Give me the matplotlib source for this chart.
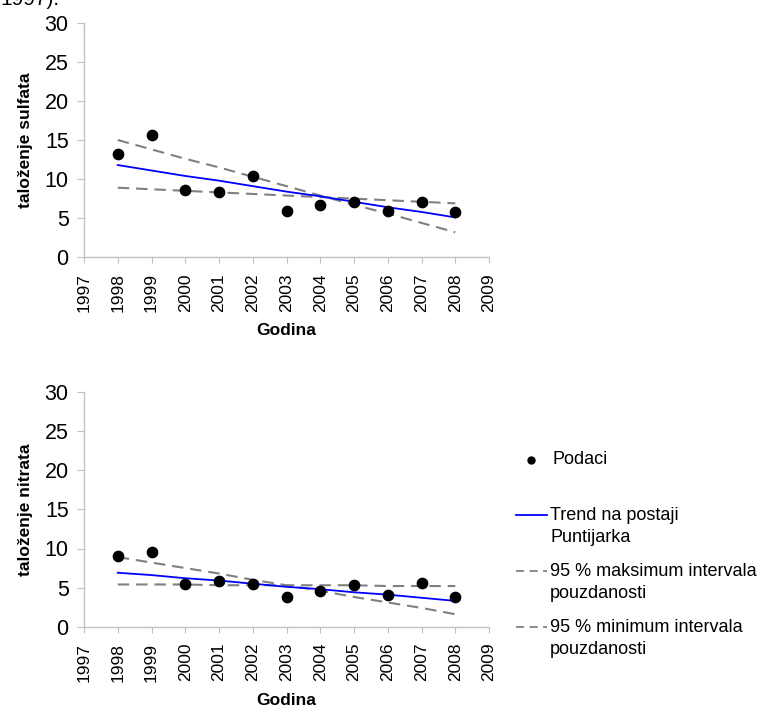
import matplotlib
matplotlib.use("Agg")
import matplotlib.pyplot as plt
from matplotlib.lines import Line2D

plt.rcParams['font.family'] = ['Liberation Sans', 'DejaVu Sans']

# === Podaci ===
godine = [1998, 1999, 2000, 2001, 2002, 2003, 2004, 2005, 2006, 2007, 2008]

sulfat = [13.2, 15.6, 8.6, 8.4, 10.4, 5.9, 6.7, 7.1, 5.9, 7.1, 5.8]
sulfat_trend = [11.8, 11.1, 10.4, 9.8, 9.1, 8.4, 7.8, 7.1, 6.4, 5.8, 5.1]
sulfat_max = [15.0, 13.8, 12.6, 11.5, 10.3, 9.1, 7.9, 6.7, 5.6, 4.4, 3.2]
sulfat_min = [8.9, 8.7, 8.5, 8.3, 8.1, 7.9, 7.7, 7.5, 7.3, 7.1, 6.9]

nitrat = [9.1, 9.6, 5.4, 5.9, 5.4, 3.8, 4.6, 5.3, 4.1, 5.6, 3.8]
nitrat_trend = [6.9, 6.6, 6.2, 5.9, 5.5, 5.1, 4.8, 4.4, 4.1, 3.7, 3.3]
nitrat_max = [8.9, 8.2, 7.5, 6.8, 6.0, 5.3, 4.6, 3.8, 3.1, 2.4, 1.6]
nitrat_min = [5.4, 5.4, 5.4, 5.3, 5.3, 5.3, 5.3, 5.3, 5.2, 5.2, 5.2]

x_ticks = list(range(1997, 2010))
y_ticks = [0, 5, 10, 15, 20, 25, 30]

SIVA = '#808080'
OS = '#c0c0c0'

fig = plt.figure(figsize=(7.6, 7.08), dpi=100)

# odrezani naslov na vrhu
fig.text(0.0, 1 - 5 / 708, "1997).", fontsize=15, va='baseline', ha='left')


def nacrtaj(ax, podaci, trend, gornji, donji, ylabel):
    ax.plot(godine, gornji, color=SIVA, lw=1.5, dashes=(5.5, 3.3))
    ax.plot(godine, donji, color=SIVA, lw=1.5, dashes=(5.5, 3.3))
    ax.plot(godine, trend, color='#0000ff', lw=1.3)
    ax.scatter(godine, podaci, s=55, color='black', zorder=5)

    ax.set_xlim(1997, 2009)
    ax.set_ylim(0, 30)
    ax.set_xticks(x_ticks)
    ax.set_xticklabels([str(g) for g in x_ticks], rotation=90, fontsize=12.5)
    ax.set_yticks(y_ticks)
    ax.set_yticklabels([str(v) for v in y_ticks], fontsize=15.5)

    for s in ['top', 'right']:
        ax.spines[s].set_visible(False)
    for s in ['left', 'bottom']:
        ax.spines[s].set_color(OS)
        ax.spines[s].set_linewidth(1)
    ax.tick_params(axis='y', direction='out', length=5, color=OS, pad=6)
    ax.tick_params(axis='x', direction='out', length=4.5, color=OS, pad=7)

    ax.set_xlabel("Godina", fontsize=12.5, fontweight='bold', labelpad=8)
    ax.set_ylabel(ylabel, fontsize=12.5, fontweight='bold', labelpad=8)


W, H = 760, 708
ax1 = fig.add_axes([84 / W, 1 - 257.3 / H, 405 / W, 234.6 / H])
ax2 = fig.add_axes([84 / W, 1 - 626.7 / H, 405 / W, 234.6 / H])

nacrtaj(ax1, sulfat, sulfat_trend, sulfat_max, sulfat_min, "taloženje sulfata")
nacrtaj(ax2, nitrat, nitrat_trend, nitrat_max, nitrat_min, "taloženje nitrata")

# === Legenda (ručno) ===
def fy(py):
    return 1 - py / H

FS = 13
fig.add_artist(Line2D([531 / W], [fy(460)], marker='o', markersize=5,
                      color='black', transform=fig.transFigure))
fig.text(552 / W, fy(460), "Podaci", fontsize=FS, va='center')

fig.add_artist(Line2D([516 / W, 547 / W], [fy(515), fy(515)], color='#0000ff',
                      lw=1.3, transform=fig.transFigure))
fig.text(550 / W, fy(515), "Trend na postaji", fontsize=FS, va='center')
fig.text(550 / W, fy(538), "Puntijarka", fontsize=FS, va='center')

for py, txt in [(571, "95 % maksimum intervala"), (627, "95 % minimum intervala")]:
    fig.add_artist(Line2D([516 / W, 547 / W], [fy(py), fy(py)], color=SIVA,
                          lw=1.3, dashes=(4.5, 3), transform=fig.transFigure))
    fig.text(550 / W, fy(py), txt, fontsize=FS, va='center')
    fig.text(550 / W, fy(py + 23), "pouzdanosti", fontsize=FS, va='center')

fig.savefig("out.png", dpi=100)
